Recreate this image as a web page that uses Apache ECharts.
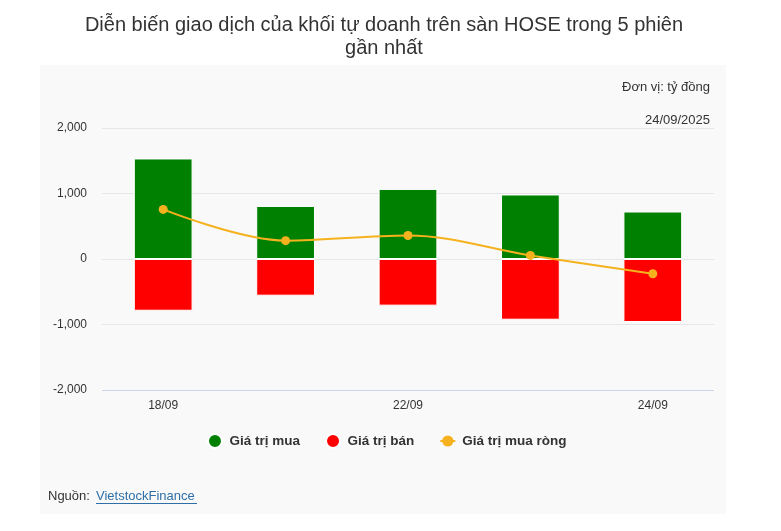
<!DOCTYPE html>
<html><head><meta charset="utf-8">
<script src="https://cdn.jsdelivr.net/npm/echarts@6/dist/echarts.min.js"></script>
<style>html,body{margin:0;padding:0;background:#fff}#c{width:781px;height:531px}</style>
</head><body><div id="c"></div>
<script>
const categories = ['18/09','19/09','22/09','23/09','24/09'];
const buyValues = [1535, 810, 1070, 985, 725];
const sellValues = [-790, -560, -712, -927, -962];
const netValues = [757, 280, 358, 55, -225];
const yTicks = [-2000, -1000, 0, 1000, 2000];

const FONT = '"Liberation Sans", Arial, sans-serif';
const chart = echarts.init(document.getElementById('c'), null, {renderer:'canvas'});
chart.setOption({
  backgroundColor: '#ffffff',
  animation: false,
  textStyle: {fontFamily: FONT},
  graphic: [
    {type:'rect', left:40, top:65, z:-10, silent:true, shape:{width:686, height:449}, style:{fill:'#f9f9f9'}},
    {type:'text', x:384, y:14, style:{text:'Diễn biến giao dịch của khối tự doanh trên sàn HOSE trong 5 phiên\ngần nhất', font:'20px '+FONT, fill:'#333333', align:'center', lineHeight:23}},
    {type:'text', right:71, top:81, style:{text:'Đơn vị: tỷ đồng', font:'13px '+FONT, fill:'#333333', align:'right'}},
    {type:'text', right:71, top:114, style:{text:'24/09/2025', font:'13px '+FONT, fill:'#333333', align:'right'}},
    {type:'text', left:48, top:490, style:{text:'Nguồn: ', font:'13px '+FONT, fill:'#333333'}},
    {type:'text', left:96, top:490, style:{text:'VietstockFinance', font:'13px '+FONT, fill:'#2f6fa8'}},
    {type:'rect', left:96, top:503, shape:{width:101, height:1}, style:{fill:'#2f6fa8'}}
  ],
  legend: {
    bottom: 77, left: 202, itemGap: 25, itemWidth: 15, itemHeight: 14,
    textStyle: {fontSize: 13.5, fontWeight: 'bold', color: '#333333', fontFamily: FONT, padding:[0,0,0,2]},
    data: [
      {name:'Giá trị mua', icon:'circle'},
      {name:'Giá trị bán', icon:'circle'},
      {name:'Giá trị mua ròng'}
    ]
  },
  grid: {left: 102, right: 67, top: 128, bottom: 141},
  xAxis: {
    type: 'category', data: categories,
    axisLine: {show:false}, axisTick: {show:false},
    axisLabel: {interval: 1, color:'#333333', fontSize: 12, margin: 10, fontFamily: FONT}
  },
  yAxis: {
    type: 'value', min: -2000, max: 2000, interval: 1000,
    axisLabel: {color:'#333333', fontSize: 12, margin: 15, fontFamily: FONT,
      formatter: v => v.toLocaleString('en-US')},
    splitLine: {lineStyle: {color: '#e6e6e6'}},
    axisLine: {show:false}, axisTick: {show:false}
  },
  series: [
    {name:'Giá trị mua', type:'bar', stack:'s', data: buyValues, barWidth:'48%',
      itemStyle:{color:'#008000', borderColor:'#ffffff', borderWidth:1}},
    {name:'Giá trị bán', type:'bar', stack:'s', data: sellValues, barWidth:'48%',
      itemStyle:{color:'#ff0000', borderColor:'#ffffff', borderWidth:1}},
    {name:'Giá trị mua ròng', type:'line', smooth:0.35, data: netValues, z: 5,
      symbol:'circle', symbolSize: 9,
      lineStyle:{color:'#f5b21e', width:2}, itemStyle:{color:'#f5b21e'}},
    {type:'line', data: [], silent: true, markLine:{symbol:'none', silent:true, label:{show:false},
      lineStyle:{color:'#ccd6eb', type:'solid', width:1}, data:[{yAxis: yTicks[0]}]}}
  ]
});
</script></body></html>
